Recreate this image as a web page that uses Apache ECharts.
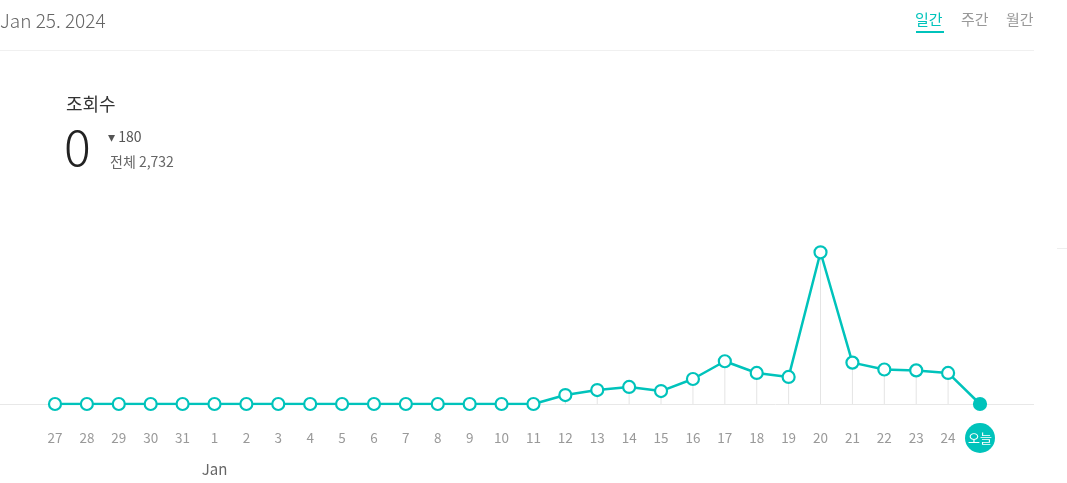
<!DOCTYPE html>
<html><head><meta charset="utf-8">
<script src="https://cdn.jsdelivr.net/npm/echarts@6/dist/echarts.min.js"></script>
<style>html,body{margin:0;padding:0;background:#fff}#c{width:1067px;height:483px}</style>
</head><body><div id="c"></div>
<script>
const categories = ['27','28','29','30','31','1','2','3','4','5','6','7','8','9','10','11','12','13','14','15','16','17','18','19','20','21','22','23','24','오늘'];
const views = [0,0,0,0,0,0,0,0,0,0,0,0,0,0,0,0,52,81,99,75,145,248,180,157,880,240,200,195,180,0];
const monthLabels = ['','','','','','Jan','','','','','','','','','','','','','','','','','','','','','','','',''];
const headerDate = 'Jan 25. 2024';
const tabs = ['일간','주간','월간'];
const metricName = '조회수';
const todayValue = '0';
const diffText = '180';
const totalText = '전체 2,732';

const TEAL = '#00c3bb';
const FONT = '"Noto Sans CJK KR", "Noto Sans", sans-serif';
const chart = echarts.init(document.getElementById('c'));
const last = views.length - 1;

chart.setOption({
  animation: false,
  grid: { left: 55, right: 87, top: 204, bottom: 79, containLabel: false },
  xAxis: [{
    type: 'category', data: categories, boundaryGap: false,
    axisLine: { show: false }, axisTick: { show: false }, splitLine: { show: false },
    axisLabel: {
      margin: 34, verticalAlign: 'middle', color: '#999', fontSize: 13.5, fontFamily: FONT, interval: 0,
      formatter: (v, i) => i === last ? '{t|' + v + '}' : v,
      rich: { t: { color: '#fff', backgroundColor: TEAL, borderRadius: 15, width: 30, height: 30, align: 'center', verticalAlign: 'middle', lineHeight: 30, fontSize: 13, fontFamily: FONT } }
    }
  }, {
    type: 'category', data: monthLabels, boundaryGap: false, position: 'bottom', offset: 58,
    axisLine: { show: false }, axisTick: { show: false },
    axisLabel: { interval: 0, color: '#666', fontSize: 15, fontFamily: FONT, margin: 0 }
  }],
  yAxis: { type: 'value', min: 0, max: 1160, show: false, splitLine: { show: false } },
  graphic: [
    { type: 'line', shape: { x1: 0, y1: 404.5, x2: 1034, y2: 404.5 }, style: { stroke: '#e8e8e8', lineWidth: 1 }, z: 0 },
    { type: 'line', shape: { x1: 0, y1: 50.5, x2: 1034, y2: 50.5 }, style: { stroke: '#f0f0f0', lineWidth: 1 } },
    { type: 'line', shape: { x1: 1057, y1: 248.5, x2: 1067, y2: 248.5 }, style: { stroke: '#eeeeee', lineWidth: 1 } },
    { type: 'text', left: 0, top: 11, style: { text: headerDate, fill: '#666', font: '300 19px ' + FONT } },
    { type: 'text', left: 915, top: 12, style: { text: tabs[0], fill: TEAL, font: '15px ' + FONT } },
    { type: 'line', shape: { x1: 916, y1: 32, x2: 944, y2: 32 }, style: { stroke: TEAL, lineWidth: 2 } },
    { type: 'text', left: 961, top: 12, style: { text: tabs[1], fill: '#999', font: '15px ' + FONT } },
    { type: 'text', left: 1006, top: 12, style: { text: tabs[2], fill: '#999', font: '15px ' + FONT } },
    { type: 'text', left: 66, top: 95, style: { text: metricName, fill: '#333', font: '18px ' + FONT } },
    { type: 'text', left: 64, top: 122, style: { text: todayValue, fill: '#222', font: '300 50px ' + FONT } },
    { type: 'text', left: 108, top: 130, style: { text: '▾ ' + diffText, fill: '#555', font: '14px ' + FONT } },
    { type: 'text', left: 110, top: 155, style: { text: totalText, fill: '#666', font: '14px ' + FONT } }
  ],
  series: [{
    type: 'bar', data: views, barWidth: 1, silent: true, z: 1,
    itemStyle: { color: '#e4e4e4' }
  }, {
    type: 'line', data: views.map((v, i) => i === last
      ? { value: v, symbol: 'circle', symbolSize: 12, itemStyle: { color: TEAL, borderColor: TEAL } }
      : v),
    z: 3, symbol: 'circle', symbolSize: 12, showAllSymbol: true,
    lineStyle: { color: TEAL, width: 2.5 },
    itemStyle: { color: '#fff', borderColor: TEAL, borderWidth: 2.2 }
  }]
});
</script></body></html>
